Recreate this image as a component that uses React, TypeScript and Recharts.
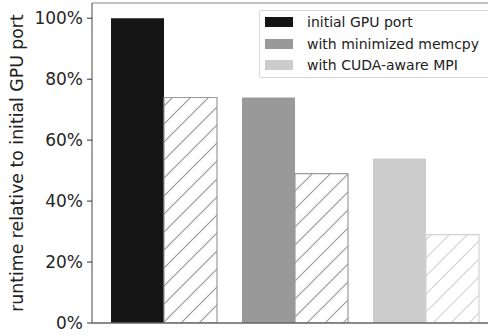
import React from 'react';
import { BarChart, Bar, XAxis, YAxis, Cell, Legend, ReferenceLine, Label } from 'recharts';

const categories = ['initial GPU port', 'with minimized memcpy', 'with CUDA-aware MPI'];
const solidValues = [1.0, 0.74, 0.54];
const hatchedValues = [0.74, 0.49, 0.29];
const yTicks = [0, 0.2, 0.4, 0.6, 0.8, 1.0];

const fillColors = ['#151515', '#999999', '#cccccc'];
const hatchColors = ['#999999', '#9c9c9c', '#d2d2d2'];
const FONT = '"DejaVu Sans", sans-serif';

const data = categories.map((name, i) => ({ name, solid: solidValues[i], hatched: hatchedValues[i] }));

const renderLegend = () => (
  <div
    style={{
      border: '1px solid #d6d6d6',
      borderRadius: 3,
      background: '#fff',
      padding: '0.5px 0 1px 5px',
      width: 240,
      boxSizing: 'border-box',
      fontFamily: FONT,
      fontSize: 14,
      color: '#222',
    }}
  >
    {categories.map((c, i) => (
      <div key={c} style={{ display: 'flex', alignItems: 'center', height: 21.5, whiteSpace: 'nowrap' }}>
        <span style={{ display: 'inline-block', width: 28, height: 10, background: fillColors[i], marginRight: 14 }} />
        <span>{c}</span>
      </div>
    ))}
  </div>
);

const renderYLabel = (props: any) => {
  const vb = props.viewBox || { x: 0, y: 0, width: 92, height: 320 };
  const x = 23;
  const y = vb.y + vb.height / 2;
  return (
    <text
      x={x}
      y={y}
      transform={`rotate(-90, ${x}, ${y})`}
      textAnchor="middle"
      fill="#222"
      fontSize={17.3}
      fontFamily={FONT}
    >
      runtime relative to initial GPU port
    </text>
  );
};

export default function App() {
  return (
    <div style={{ position: 'absolute', left: 0, top: 0, width: 488, height: 335, overflow: 'hidden', background: '#fff' }}>
      <BarChart
        width={500}
        height={335}
        data={data}
        margin={{ top: 3, right: 4, bottom: 0, left: 0 }}
        barCategoryGap={13}
        barGap={0}
      >
        <defs>
          {hatchColors.map((col, i) => (
            <pattern key={i} id={`hatch-${i}`} patternUnits="userSpaceOnUse" width={18} height={18}>
              <rect x={0} y={0} width={18} height={18} fill="#fff" />
              <path d="M0,18 L18,0 M-3,3 L3,-3 M15,21 L21,15" stroke={col} strokeWidth={1.2} />
            </pattern>
          ))}
        </defs>
        <XAxis
          dataKey="name"
          tick={false}
          tickLine={false}
          height={12}
          axisLine={{ stroke: '#666', strokeWidth: 1.4 }}
          padding={{ left: 6, right: 5 }}
        />
        <YAxis
          width={92}
          domain={[0, 1.05]}
          ticks={yTicks}
          tickFormatter={(v: number) => `${Math.round(v * 100)}%`}
          tick={{ fill: '#262626', fontSize: 17, fontFamily: FONT }}
          tickLine={{ stroke: '#333' }}
          tickSize={5}
          tickMargin={4}
          axisLine={{ stroke: '#444' }}
          allowDataOverflow
        >
          <Label content={renderYLabel} />
        </YAxis>
        <ReferenceLine y={1.05} stroke="#888" strokeWidth={1.2} />
        <Bar dataKey="solid" isAnimationActive={false}>
          {data.map((d, i) => (
            <Cell key={d.name} fill={fillColors[i]} />
          ))}
        </Bar>
        <Bar dataKey="hatched" isAnimationActive={false}>
          {data.map((d, i) => (
            <Cell key={d.name} fill={`url(#hatch-${i})`} stroke={hatchColors[i]} strokeWidth={1.2} />
          ))}
        </Bar>
        <Legend
          layout="vertical"
          align="center"
          verticalAlign="middle"
          content={renderLegend}
          wrapperStyle={{ left: 259, top: 10, width: 240 }}
        />
      </BarChart>
    </div>
  );
}
